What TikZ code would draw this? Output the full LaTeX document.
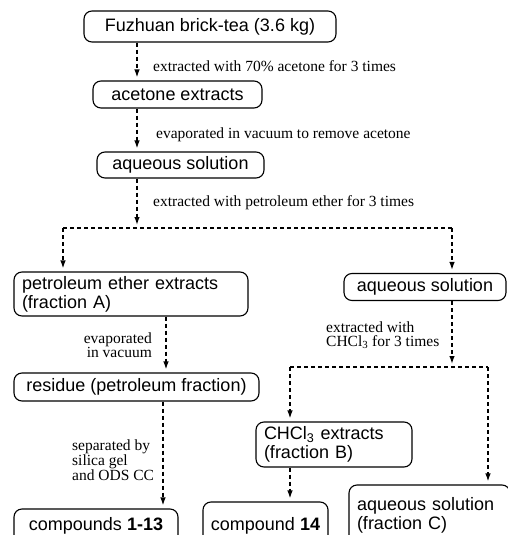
\documentclass[tikz,border=0pt]{standalone}
\usepackage{fontspec}
\setmainfont{Liberation Serif}
\setsansfont{Liberation Sans}
\usetikzlibrary{arrows.meta}

\tikzset{
	box/.style={draw, line width=1.1pt, rounded corners=8pt, inner xsep=8pt, inner ysep=0pt,
		font=\fontsize{18}{19}\selectfont\sffamily},
	note/.style={inner sep=0pt, font=\fontsize{15.5}{14}\selectfont},
	dline/.style={line width=1.3pt, dash pattern=on 4pt off 3pt},
	flow/.style={dline, -{Latex[length=8pt,width=5.5pt]}, shorten >=3pt}
}

\begin{document}
\begin{tikzpicture}[x=1pt, y=-1pt]
\useasboundingbox (0,0) rectangle (508,535);

\node[box, minimum width=252, minimum height=31] (tea) at (210,26.5) {Fuzhuan brick-tea (3.6 kg)};
\node[box, minimum width=169, minimum height=27] (acet) at (177.5,94.5) {acetone extracts};
\node[box, minimum width=167, minimum height=26] (aqA) at (180.5,165) {aqueous solution};
\node[box, text width=218, minimum height=44, align=left] (petA) at (131,294) {petroleum ether extracts\\(fraction A)};
\node[box, minimum width=162, minimum height=27] (aqB) at (425,287) {aqueous solution};
\node[box, minimum width=245, minimum height=28] (res) at (136.5,387) {residue (petroleum fraction)};
\node[box, text width=140, minimum height=45, align=left] (chcl) at (334,444.5) {CHCl\textsubscript{3} extracts\\(fraction B)};
\node[box, minimum width=164, minimum height=34] (cmpA) at (96,526) {compounds \textbf{1-13}};
\node[box, minimum width=125, minimum height=48] (cmpB) at (265.5,526) {compound \textbf{14}};
\node[box, text width=145, minimum height=60, align=left] (aqC) at (429.5,515) {aqueous solution\\(fraction C)};

% arrow columns and branch points
\coordinate (colA) at (137,0);
\coordinate (colB) at (166,0);
\coordinate (colC) at (163,0);
\coordinate (splitA) at (137,228);
\coordinate (leftA) at (63,228);
\coordinate (rightA) at (452,228);
\coordinate (splitB) at (452,367);
\coordinate (leftB) at (290,367);
\coordinate (rightB) at (488,367);

\foreach \a/\b/\c in {tea/acet/colA, acet/aqA/colA, petA/res/colB, res/cmpA/colC, chcl/cmpB/leftB} {
	\draw[flow] (\a.south -| \c) -- (\b.north -| \c);
}

\draw[flow] (aqA.south -| splitA) -- (splitA);
\draw[dline] (leftA) -- (rightA);
\draw[flow] (leftA) -- (petA.north -| leftA);
\draw[flow] (rightA) -- (aqB.north -| rightA);

\draw[flow] (aqB.south -| splitB) -- (splitB);
\draw[dline] (leftB) -- (rightB);
\draw[flow] (leftB) -- (chcl.north -| leftB);
\draw[flow] (rightB) -- (aqC.north -| rightB);

\node[note, anchor=west] (stepA) at (153,66) {extracted with 70\% acetone for 3 times};
\node[note, anchor=west] (stepB) at (156,135) {evaporated in vacuum to remove acetone};
\node[note, anchor=west] (stepC) at (153,203) {extracted with petroleum ether for 3 times};
\node[note, anchor=east, align=right] (stepD) at (152,345.5) {evaporated\\in vacuum};
\node[note, anchor=west, align=left] (stepE) at (326,335) {extracted with\\CHCl\textsubscript{3} for 3 times};
\node[note, anchor=west, align=left] (stepF) at (72,460) {separated by\\silica gel\\and ODS CC};
\end{tikzpicture}
\end{document}
